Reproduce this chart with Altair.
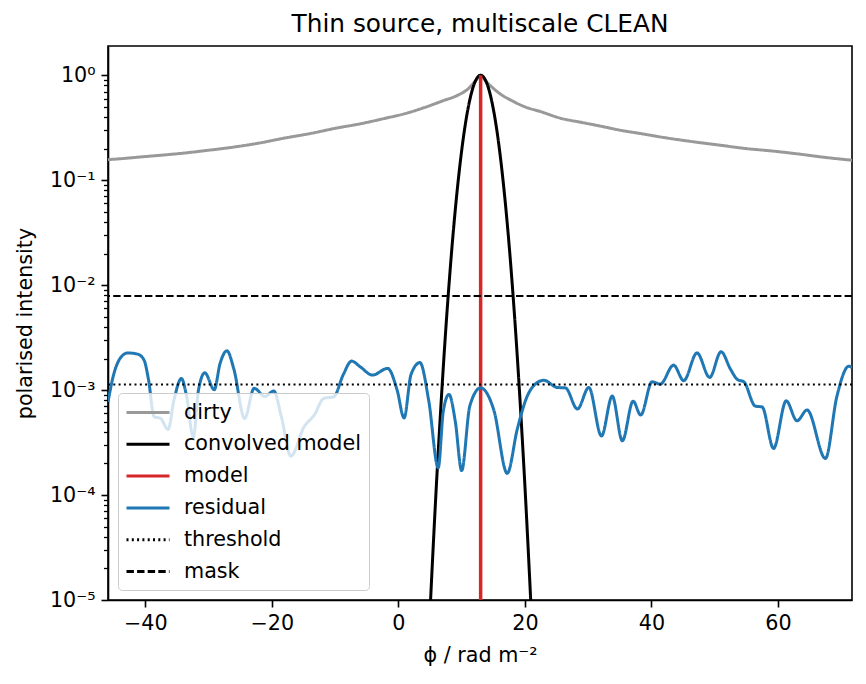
import altair as alt
import pandas as pd

# ---------------- data ----------------
dirty_phi = [-45.9, -44.0, -41.0, -38.0, -34.0, -30.0, -26.0, -22.0, -18.0, -14.0,
             -10.0, -6.0, -2.0, 1.0, 4.0, 7.0, 9.5, 11.0, 12.3, 13.0,
             13.8, 14.8, 16.0, 18.0, 20.0, 22.5, 25.6, 29.0, 32.0, 35.0,
             38.3, 42.0, 46.7, 51.0, 55.0, 59.0, 62.5, 67.8, 71.7]
dirty_val = [0.157, 0.160, 0.166, 0.172, 0.181, 0.193, 0.207, 0.226, 0.252, 0.278,
             0.312, 0.345, 0.39, 0.43, 0.49, 0.57, 0.65, 0.74, 0.90, 1.0,
             0.88, 0.77, 0.67, 0.57, 0.50, 0.45, 0.39, 0.355, 0.327, 0.30,
             0.278, 0.255, 0.232, 0.215, 0.20, 0.19, 0.18, 0.164, 0.155]

conv_phi = [5.0, 5.5, 6.0, 6.5, 7.0, 7.5, 8.0, 8.5, 9.0, 9.5, 10.0, 10.5, 11.0, 11.5,
            12.0, 12.5, 13.0, 13.5, 14.0, 14.5, 15.0, 15.5, 16.0, 16.5, 17.0, 17.5,
            18.0, 18.5, 19.0, 19.5, 20.0, 20.5, 21.0]
conv_val = [7.8e-6, 3.2e-5, 1.22e-4, 4.2e-4, 1.33e-3, 3.85e-3, 1.01e-2, 2.42e-2,
            5.28e-2, 0.105, 0.191, 0.317, 0.479, 0.661, 0.832, 0.955, 1.0,
            0.955, 0.832, 0.661, 0.479, 0.317, 0.191, 0.105, 5.28e-2, 2.42e-2,
            1.01e-2, 3.85e-3, 1.33e-3, 4.2e-4, 1.22e-4, 3.2e-5, 7.8e-6]

model_phi = [13.0]
model_val = [1.0]

resid_phi = [-45.9, -45.0, -44.0, -42.8, -41.2, -40.2, -39.5, -38.6, -37.6, -36.4,
             -35.5, -34.3, -33.5, -32.4, -31.6, -30.6, -29.1, -28.2, -27.1, -26.0,
             -24.3, -22.8, -21.1, -19.7, -18.5, -17.0, -14.9, -13.3, -11.8, -10.2,
             -8.7, -7.4, -6.0, -4.1, -1.7, -0.2, 0.9, 2.0, 3.4, 4.8,
             6.3, 7.1, 8.0, 9.0, 10.0, 11.3, 13.0, 15.1, 17.2, 18.8,
             20.4, 21.5, 23.0, 25.1, 26.4, 28.3, 30.1, 32.1, 33.8, 35.4,
             37.1, 38.3, 40.1, 41.4, 43.5, 45.1, 47.2, 49.2, 51.0, 52.5,
             53.6, 54.6, 56.4, 57.5, 59.3, 61.3, 63.0, 64.6, 67.5, 69.3,
             71.2, 71.7]
resid_val = [7.7e-4, 1.41e-3, 2.0e-3, 2.26e-3, 2.20e-3, 1.93e-3, 1.26e-3, 5.57e-4, 5.37e-4, 4.22e-4,
             7.9e-4, 1.29e-3, 8.9e-4, 3.54e-4, 1.0e-3, 1.46e-3, 1.01e-3, 1.78e-3, 2.37e-3, 1.58e-3,
             5.37e-4, 1.04e-3, 8.7e-4, 9.8e-4, 5.6e-4, 2.35e-4, 4.48e-4, 5.78e-4, 8.34e-4, 8.65e-4,
             1.41e-3, 1.89e-3, 1.66e-3, 1.39e-3, 1.61e-3, 1.0e-3, 5.43e-4, 1.41e-3, 1.83e-3, 7.9e-4,
             1.82e-4, 6.3e-4, 9.1e-4, 5.0e-4, 1.71e-4, 7.1e-4, 1.05e-3, 6.4e-4, 1.61e-4, 4.27e-4,
             8.85e-4, 1.12e-3, 1.24e-3, 1.06e-3, 1.05e-3, 6.6e-4, 1.06e-3, 3.65e-4, 8.77e-4, 3.29e-4,
             7.85e-4, 5.78e-4, 1.20e-3, 1.14e-3, 1.73e-3, 1.23e-3, 2.26e-3, 1.32e-3, 2.32e-3, 1.58e-3,
             1.26e-3, 1.20e-3, 7.05e-4, 6.9e-4, 2.78e-4, 7.9e-4, 5.1e-4, 6.46e-4, 2.23e-4, 8.65e-4,
             1.69e-3, 1.64e-3]

threshold_val = 1.13e-3
mask_val = 7.9e-3

series_names = ["dirty", "convolved model", "model", "residual", "threshold", "mask"]
series_colors = ["#999999", "#000000", "#d62728", "#1f77b4", "#000000", "#000000"]
series_dashes = [[1, 0], [1, 0], [1, 0], [1, 0], [2, 3.3], [7.4, 3.2]]

x_domain = [-45.9, 71.7]
y_domain = [1e-5, 1.9]
x_ticks = [-40, -20, 0, 20, 40, 60]
y_ticks = [1e-5, 1e-4, 1e-3, 1e-2, 1e-1, 1.0]
y_minor = [k * 10.0 ** e for e in range(-5, 0) for k in range(2, 10)]

title_text = "Thin source, multiscale CLEAN"
x_title = "ϕ / rad m⁻²"
y_title = "polarised intensity"

FONT = "DejaVu Sans"
FS = 20.7
TFS = 24.8

# ---------------- tables ----------------
lines = pd.concat([
    pd.DataFrame({"series": "dirty", "phi": dirty_phi, "value": dirty_val, "k": 0}),
    pd.DataFrame({"series": "convolved model", "phi": conv_phi, "value": conv_val, "k": 1}),
    pd.DataFrame({"series": "residual", "phi": resid_phi, "value": resid_val, "k": 3}),
], ignore_index=True)
lines["i"] = range(len(lines))

model_df = pd.DataFrame({"series": "model", "phi": model_phi, "value": model_val})
hlines_df = pd.DataFrame({"series": ["threshold", "mask"], "value": [threshold_val, mask_val]})

# ---------------- encodings ----------------
xs = alt.Scale(domain=x_domain, nice=False, zero=False)
ys = alt.Scale(type="log", domain=y_domain, nice=False)

x_axis = alt.Axis(values=x_ticks, tickSize=7, labelPadding=6, titlePadding=13, grid=False,
                  labelFontSize=FS, titleFontSize=FS,
                  labelExpr="datum.value < 0 ? '\u2212' + abs(datum.value) : '' + datum.value")
x_enc = alt.X("phi:Q", scale=xs, title=x_title, axis=x_axis)

is_major = "abs(log(datum.value)/LN10 - round(log(datum.value)/LN10)) < 1e-6"
y_label_expr = ("(" + is_major + ") ? ('10' + (round(log(datum.value)/LN10) < 0 ? '\u207b' : '') + "
                "['\u2070','\u00b9','\u00b2','\u00b3','\u2074','\u2075'][abs(round(log(datum.value)/LN10))]) : ''")

y_enc = alt.Y("value:Q", scale=ys, title=y_title,
              axis=alt.Axis(values=y_ticks + y_minor,
                            tickSize={"condition": {"test": is_major, "value": 7}, "value": 4.5},
                            tickWidth={"condition": {"test": is_major, "value": 1.6}, "value": 1.3},
                            labelPadding=6, titlePadding=14,
                            labelExpr=y_label_expr, orient="left", grid=False,
                            labelFontSize=FS, titleFontSize=FS, labelOverlap=False))

legend = alt.Legend(
    title=None, orient="none", legendX=10, legendY=347, direction="vertical",
    symbolType="M-1.1,0H3.2", symbolSize=400, symbolStrokeWidth=3,
    labelFontSize=FS, labelFont=FONT, labelColor="black", labelOffset=35, labelLimit=400,
    padding=8, rowPadding=9.8, strokeColor="#cccccc", fillColor="rgba(255,255,255,0.8)",
    cornerRadius=4,
)
color_enc = alt.Color("series:N", scale=alt.Scale(domain=series_names, range=series_colors),
                      legend=legend, title=None)
dash_enc = alt.StrokeDash("series:N", scale=alt.Scale(domain=series_names, range=series_dashes),
                          legend=legend, title=None)

base_lines = alt.Chart(lines).mark_line(strokeWidth=3, interpolate="monotone", clip=True).encode(
    x=x_enc, y=y_enc, color=color_enc, strokeDash=dash_enc, detail="k:N", order="i:Q"
)

model_rule = alt.Chart(model_df).mark_rule(strokeWidth=3.5, clip=True).encode(
    x=x_enc, y=y_enc, y2=alt.datum(y_domain[0]), color=color_enc, strokeDash=dash_enc
)

hlines = alt.Chart(hlines_df).mark_rule(strokeWidth=2, clip=True).encode(
    y=y_enc, color=color_enc, strokeDash=dash_enc
)

dirty_conv = base_lines.transform_filter("datum.k < 2")
resid = base_lines.transform_filter("datum.k == 3")

chart = alt.layer(dirty_conv, model_rule, resid, hlines).resolve_scale(
    y="shared", x="shared", color="shared", strokeDash="shared"
).properties(
    width=744, height=554,
    background="white",
    title=alt.Title(title_text, fontSize=TFS, font=FONT, fontWeight="normal", color="black", offset=9),
    autosize=alt.AutoSizeParams(type="none"),
    padding={"left": 108, "top": 46, "right": 14, "bottom": 84},
).configure_view(
    stroke="black", strokeWidth=1.6
).configure_axis(
    grid=False, domainColor="black", domainWidth=1.6, tickColor="black", tickWidth=1.6,
    labelFont=FONT, labelFontSize=FS, labelColor="black",
    titleFont=FONT, titleFontSize=FS, titleFontWeight="normal", titleColor="black"
)

chart.save("out.html", embed_options={"renderer": "svg", "actions": False})
